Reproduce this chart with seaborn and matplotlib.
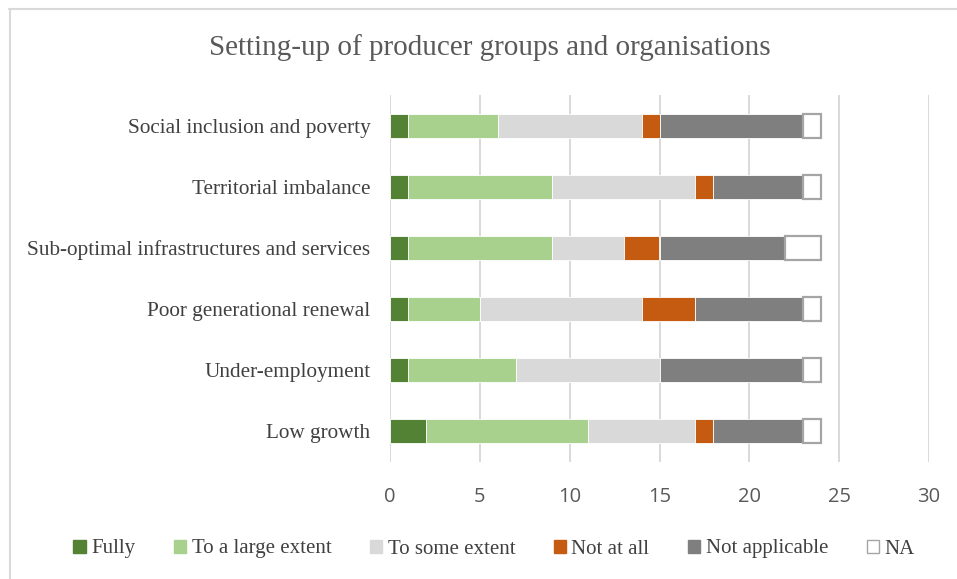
import matplotlib
matplotlib.use("Agg")
import matplotlib.pyplot as plt
from matplotlib.patches import Patch
from matplotlib.lines import Line2D
import numpy as np
import pandas as pd
import seaborn as sns

# Challenges, top to bottom
categories = [
    "Social inclusion and poverty",
    "Territorial imbalance",
    "Sub-optimal infrastructures and services",
    "Poor generational renewal",
    "Under-employment",
    "Low growth",
]

# Number of responses per answer
fully = [1, 1, 1, 1, 1, 2]
large_extent = [5, 8, 8, 4, 6, 9]
some_extent = [8, 8, 4, 9, 8, 6]
not_at_all = [1, 1, 2, 3, 0, 1]
not_applicable = [8, 5, 7, 6, 8, 5]
na = [1, 1, 2, 1, 1, 1]

series_names = ["Fully", "To a large extent", "To some extent",
                "Not at all", "Not applicable", "NA"]
series_values = [fully, large_extent, some_extent, not_at_all, not_applicable, na]
face_colors = ["#548235", "#a9d18e", "#d9d9d9", "#c55a11", "#7f7f7f", "#ffffff"]
edge_colors = ["white", "white", "white", "white", "white", "#a5a5a5"]
edge_widths = [0.6, 0.6, 0.6, 0.6, 0.6, 1.6]

sns.set_theme(style="white")
serif = ["Liberation Serif", "DejaVu Serif"]
sans = ["Open Sans", "DejaVu Sans"]

fig = plt.figure(figsize=(9.57, 5.79), dpi=100)
ax = fig.add_axes([390 / 957, 1 - 462 / 579, 539 / 957, 367 / 579])

df = pd.DataFrame({"category": categories})
left = np.zeros(len(categories))
for name, vals, fc, ec, lw in zip(series_names, series_values,
                                  face_colors, edge_colors, edge_widths):
    df[name] = vals
    sns.barplot(data=df, x=name, y="category", order=categories, orient="h",
                color=fc, saturation=1, width=0.39, left=left.copy(),
                edgecolor=ec, linewidth=lw, ax=ax, zorder=3)
    left = left + np.array(vals)

ax.set_xlim(0, 30)
ax.set_ylim(5.5, -0.5)
ax.set_xticks(range(0, 31, 5))
ax.grid(axis="x", color="#d9d9d9", linewidth=1.4, zorder=0)
ax.grid(axis="y", visible=False)
for s in ax.spines.values():
    s.set_visible(False)
ax.set_xlabel("")
ax.set_ylabel("")
ax.tick_params(axis="x", length=0, pad=18, labelsize=14.5, colors="#595959")
ax.tick_params(axis="y", length=0, pad=14)
for lab in ax.get_xticklabels():
    lab.set_family(sans)
for lab in ax.get_yticklabels():
    lab.set_family(serif)
    lab.set_fontsize(15.3)
    lab.set_color("#404040")

fig.text(490 / 957, 1 - 48 / 579, "Setting-up of producer groups and organisations",
         ha="center", va="center", fontsize=21, family=serif, color="#595959")

handles = [Patch(facecolor=fc, edgecolor=(ec if ec != "white" else fc), linewidth=1.0)
           for fc, ec in zip(face_colors, edge_colors)]
leg = fig.legend(handles, series_names, loc="center", bbox_to_anchor=(494 / 957, 1 - 549 / 579),
                 ncol=6, frameon=False, handlelength=0.6, handleheight=0.6,
                 handletextpad=0.25, columnspacing=1.85,
                 prop={"family": serif, "size": 15})
for t in leg.get_texts():
    t.set_color("#404040")

# Chart frame edges
fig.add_artist(Line2D([9 / 957, 1.0], [1 - 8.5 / 579, 1 - 8.5 / 579],
                      color="#d9d9d9", linewidth=1.5, transform=fig.transFigure))
fig.add_artist(Line2D([9.5 / 957, 9.5 / 957], [0, 1 - 8.5 / 579],
                      color="#d9d9d9", linewidth=1.5, transform=fig.transFigure))

fig.savefig("out.png", dpi=100, facecolor="white")
